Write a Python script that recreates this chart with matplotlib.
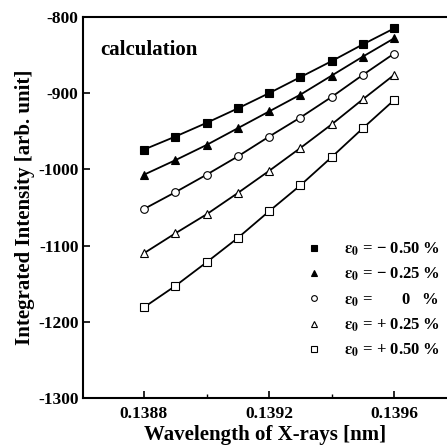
import numpy as np
import matplotlib
matplotlib.use("Agg")
import matplotlib.pyplot as plt
from matplotlib.ticker import MultipleLocator

plt.rcParams['font.family'] = ['Liberation Serif', 'DejaVu Serif']
plt.rcParams['font.weight'] = 'bold'
plt.rcParams['axes.unicode_minus'] = False
plt.rcParams['mathtext.fontset'] = 'stix'

# wavelength [nm]
wavelength = [0.1388, 0.1389, 0.1390, 0.1391, 0.1392, 0.1393, 0.1394, 0.1395, 0.1396]

# integrated intensity for each strain value
m050 = [-974, -957, -939, -920, -900, -879, -858, -836, -815]
m025 = [-1007, -988, -968, -946, -924, -902, -877, -852, -828]
zero = [-1052, -1030, -1007, -983, -957, -932, -905, -876, -848]
p025 = [-1110, -1084, -1059, -1031, -1002, -972, -941, -908, -876]
p050 = [-1181, -1153, -1122, -1090, -1055, -1021, -984, -946, -909]

labels = [r"$\mathbf{\varepsilon_0}$ = − 0.50 %", r"$\mathbf{\varepsilon_0}$ = − 0.25 %",
          r"$\mathbf{\varepsilon_0}$ =       0   %",
          r"$\mathbf{\varepsilon_0}$ = + 0.25 %", r"$\mathbf{\varepsilon_0}$ = + 0.50 %"]
markers = ["s", "^", "o", "^", "s"]
filled = [True, True, False, False, False]

fig = plt.figure(figsize=(4.47, 4.46), dpi=100)
ax = fig.add_axes([0.185, 0.1076, 0.815, 0.8544])

series = [m050, m025, zero, p025, p050]
for i in range(len(series)):
    ax.plot(wavelength, series[i], "-", color="black", lw=1.3, zorder=2)
    ax.plot(wavelength, series[i], markers[i], linestyle="none",
            markerfacecolor="black" if filled[i] else "white",
            markeredgecolor="black", markeredgewidth=0.8,
            markersize=5.5, label=labels[i], zorder=3)

ax.set_xlim(0.138604, 0.139769)
ax.set_ylim(-1300, -800)
ax.xaxis.set_minor_locator(MultipleLocator(0.0002))
ax.yaxis.set_major_locator(MultipleLocator(100))
ax.set_xticks([0.1388, 0.1392, 0.1396])
ax.set_xticklabels(["0.1388", "0.1392", "0.1396"])
ax.tick_params(direction="in", length=5, width=1.2, labelsize=12.5, pad=6)
ax.tick_params(axis="y", pad=3)
ax.tick_params(which="minor", direction="in", length=3, width=1)
ax.spines['right'].set_visible(False)
for s in ['left', 'bottom', 'top']:
    ax.spines[s].set_linewidth(1.5)

ax.set_xlabel("Wavelength of X-rays [nm]", fontsize=15, fontweight="bold", labelpad=2)
ax.set_ylabel("Integrated Intensity [arb. unit]", fontsize=15, fontweight="bold", labelpad=2)

ax.text(0.048, 0.913, "calculation", transform=ax.transAxes, fontsize=15,
        fontweight="bold", va="center", ha="left")

leg = ax.legend(loc="lower right", bbox_to_anchor=(1.022, 0.062), frameon=False,
                handlelength=1.0, handletextpad=1.3, labelspacing=0.48,
                markerscale=0.75, fontsize=12)

fig.savefig("out.png", dpi=100)
